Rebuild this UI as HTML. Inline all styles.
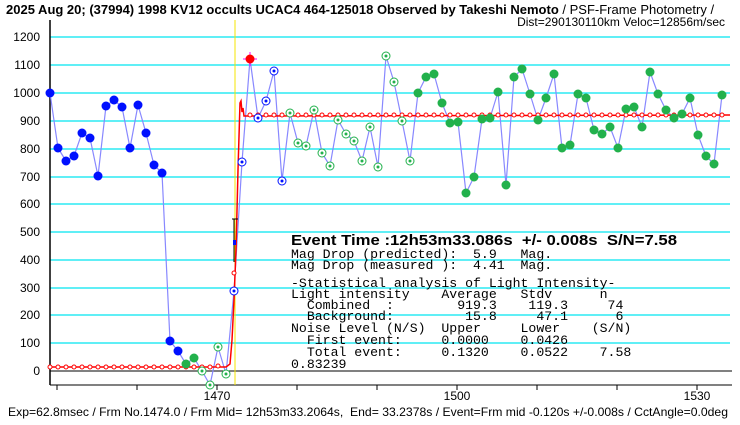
<!DOCTYPE html>
<html><head><meta charset="utf-8"><style>
body{margin:0;background:#fff;}
svg{display:block;font-family:"Liberation Sans","Noto Sans CJK JP",sans-serif;}
.m{font-family:"Liberation Mono",monospace;font-size:13.2px;}
text{white-space:pre;}
</style></head><body>
<svg width="740" height="425" viewBox="0 0 740 425" xmlns="http://www.w3.org/2000/svg">
<rect width="740" height="425" fill="#fff"/>
<g stroke="#00e5f0" stroke-width="1.3">
<line x1="50" x2="730" y1="37" y2="37"/><line x1="50" x2="730" y1="65" y2="65"/>
<line x1="50" x2="730" y1="93" y2="93"/><line x1="50" x2="730" y1="121" y2="121"/>
<line x1="50" x2="730" y1="149" y2="149"/><line x1="50" x2="730" y1="177" y2="177"/>
<line x1="50" x2="730" y1="204" y2="204"/><line x1="50" x2="730" y1="232" y2="232"/>
<line x1="50" x2="730" y1="260" y2="260"/><line x1="50" x2="730" y1="288" y2="288"/>
<line x1="50" x2="730" y1="315" y2="315"/><line x1="50" x2="730" y1="343" y2="343"/>
</g>
<line x1="50" x2="732" y1="371" y2="371" stroke="#000"/>
<line x1="50" x2="732" y1="385" y2="385" stroke="#000"/>
<line x1="50" x2="50" y1="20" y2="385" stroke="#000" stroke-width="1.5"/>
<line x1="235" x2="235" y1="20" y2="385" stroke="#f5e600"/>
<g stroke="#000"><line x1="57" x2="57" y1="385" y2="390"/><line x1="137" x2="137" y1="385" y2="390"/><line x1="217" x2="217" y1="385" y2="390"/><line x1="297" x2="297" y1="385" y2="390"/><line x1="377" x2="377" y1="385" y2="390"/><line x1="457" x2="457" y1="385" y2="390"/><line x1="537" x2="537" y1="385" y2="390"/><line x1="617" x2="617" y1="385" y2="390"/><line x1="697" x2="697" y1="385" y2="390"/></g>
<g font-size="12" text-anchor="end" fill="#000">
<text x="40" y="41">1200</text><text x="40" y="69">1100</text><text x="40" y="97">1000</text><text x="40" y="125">900</text><text x="40" y="153">800</text><text x="40" y="181">700</text><text x="40" y="208">600</text><text x="40" y="236">500</text><text x="40" y="264">400</text><text x="40" y="292">300</text><text x="40" y="319">200</text><text x="40" y="347">100</text><text x="40" y="375">0</text>
</g>
<g font-size="12" text-anchor="middle"><text x="217" y="400">1470</text><text x="457" y="400">1500</text><text x="697" y="400">1530</text></g>
<polyline fill="none" stroke="#8888ff" stroke-width="1.2" points="50,93 58,148 66,161 74,156 82,133 90,138 98,176 106,106 114,100 122,107 130,148 138,105 146,133 154,165 162,173 170,341 178,351 186,364 194,358 202,371 210,385 218,347 226,374 234,291 242,162 250,59 258,118 266,101 274,71 282,181 290,113 298,143 306,146 314,110 322,153 330,166 338,120 346,134 354,141 362,161 370,127 378,167 386,56 394,82 402,121 410,161 418,93 426,77 434,74 442,103 450,123 458,122 466,193 474,177 482,119 490,118 498,92 506,185 514,77 522,69 530,94 538,120 546,98 554,74 562,148 570,145 578,94 586,98 594,130 602,134 610,127 618,148 626,109 634,107 642,127 650,72 658,94 666,110 674,118 682,114 690,98 698,135 706,156 714,164 722,95"/>
<polyline fill="none" stroke="#f00" stroke-width="1.5" points="50,367 226,367 230,364 232,340 234,300 236,250 238,170 240,103 241,101 242,112 243,108 244,116 730,115"/>
<g fill="#fff" stroke="#f00" stroke-width="1">
<circle cx="50" cy="367" r="2"/><circle cx="58" cy="367" r="2"/><circle cx="66" cy="367" r="2"/><circle cx="74" cy="367" r="2"/><circle cx="82" cy="367" r="2"/><circle cx="90" cy="367" r="2"/><circle cx="98" cy="367" r="2"/><circle cx="106" cy="367" r="2"/><circle cx="114" cy="367" r="2"/><circle cx="122" cy="367" r="2"/><circle cx="130" cy="367" r="2"/><circle cx="138" cy="367" r="2"/><circle cx="146" cy="367" r="2"/><circle cx="154" cy="367" r="2"/><circle cx="162" cy="367" r="2"/><circle cx="170" cy="367" r="2"/><circle cx="178" cy="367" r="2"/><circle cx="186" cy="367" r="2"/><circle cx="194" cy="367" r="2"/><circle cx="202" cy="367" r="2"/><circle cx="210" cy="367" r="2"/><circle cx="218" cy="366" r="2"/><circle cx="234" cy="273" r="2"/>
</g>
<g fill="#fff" stroke="#f00">
<circle cx="250" cy="115" r="2"/><circle cx="258" cy="115" r="2"/><circle cx="266" cy="115" r="2"/><circle cx="274" cy="115" r="2"/><circle cx="282" cy="115" r="2"/><circle cx="290" cy="115" r="2"/><circle cx="298" cy="115" r="2"/><circle cx="306" cy="115" r="2"/><circle cx="314" cy="115" r="2"/><circle cx="322" cy="115" r="2"/><circle cx="330" cy="115" r="2"/><circle cx="338" cy="115" r="2"/><circle cx="346" cy="115" r="2"/><circle cx="354" cy="115" r="2"/><circle cx="362" cy="115" r="2"/><circle cx="370" cy="115" r="2"/><circle cx="378" cy="115" r="2"/><circle cx="386" cy="115" r="2"/><circle cx="394" cy="115" r="2"/><circle cx="402" cy="115" r="2"/><circle cx="410" cy="115" r="2"/><circle cx="418" cy="115" r="2"/><circle cx="426" cy="115" r="2"/><circle cx="434" cy="115" r="2"/><circle cx="442" cy="115" r="2"/><circle cx="450" cy="115" r="2"/><circle cx="458" cy="115" r="2"/><circle cx="466" cy="115" r="2"/><circle cx="474" cy="115" r="2"/><circle cx="482" cy="115" r="2"/><circle cx="490" cy="115" r="2"/><circle cx="498" cy="115" r="2"/><circle cx="506" cy="115" r="2"/><circle cx="514" cy="115" r="2"/><circle cx="522" cy="115" r="2"/><circle cx="530" cy="115" r="2"/><circle cx="538" cy="115" r="2"/><circle cx="546" cy="115" r="2"/><circle cx="554" cy="115" r="2"/><circle cx="562" cy="115" r="2"/><circle cx="570" cy="115" r="2"/><circle cx="578" cy="115" r="2"/><circle cx="586" cy="115" r="2"/><circle cx="594" cy="115" r="2"/><circle cx="602" cy="115" r="2"/><circle cx="610" cy="115" r="2"/><circle cx="618" cy="115" r="2"/><circle cx="626" cy="115" r="2"/><circle cx="634" cy="115" r="2"/><circle cx="642" cy="115" r="2"/><circle cx="650" cy="115" r="2"/><circle cx="658" cy="115" r="2"/><circle cx="666" cy="115" r="2"/><circle cx="674" cy="115" r="2"/><circle cx="682" cy="115" r="2"/><circle cx="690" cy="115" r="2"/><circle cx="698" cy="115" r="2"/><circle cx="706" cy="115" r="2"/><circle cx="714" cy="115" r="2"/><circle cx="722" cy="115" r="2"/>
</g>
<g fill="#0010ff">
<circle cx="50" cy="93" r="4.5"/><circle cx="58" cy="148" r="4.5"/><circle cx="66" cy="161" r="4.5"/><circle cx="74" cy="156" r="4.5"/><circle cx="82" cy="133" r="4.5"/><circle cx="90" cy="138" r="4.5"/><circle cx="98" cy="176" r="4.5"/><circle cx="106" cy="106" r="4.5"/><circle cx="114" cy="100" r="4.5"/><circle cx="122" cy="107" r="4.5"/><circle cx="130" cy="148" r="4.5"/><circle cx="138" cy="105" r="4.5"/><circle cx="146" cy="133" r="4.5"/><circle cx="154" cy="165" r="4.5"/><circle cx="162" cy="173" r="4.5"/><circle cx="170" cy="341" r="4.5"/><circle cx="178" cy="351" r="4.5"/>
</g>
<g fill="#22b14c">
<circle cx="186" cy="364" r="4.5"/><circle cx="194" cy="358" r="4.5"/>
<circle cx="418" cy="93" r="4.5"/><circle cx="426" cy="77" r="4.5"/><circle cx="434" cy="74" r="4.5"/><circle cx="442" cy="103" r="4.5"/><circle cx="450" cy="123" r="4.5"/><circle cx="458" cy="122" r="4.5"/><circle cx="466" cy="193" r="4.5"/><circle cx="474" cy="177" r="4.5"/><circle cx="482" cy="119" r="4.5"/><circle cx="490" cy="118" r="4.5"/><circle cx="498" cy="92" r="4.5"/><circle cx="506" cy="185" r="4.5"/><circle cx="514" cy="77" r="4.5"/><circle cx="522" cy="69" r="4.5"/><circle cx="530" cy="94" r="4.5"/><circle cx="538" cy="120" r="4.5"/><circle cx="546" cy="98" r="4.5"/><circle cx="554" cy="74" r="4.5"/><circle cx="562" cy="148" r="4.5"/><circle cx="570" cy="145" r="4.5"/><circle cx="578" cy="94" r="4.5"/><circle cx="586" cy="98" r="4.5"/><circle cx="594" cy="130" r="4.5"/><circle cx="602" cy="134" r="4.5"/><circle cx="610" cy="127" r="4.5"/><circle cx="618" cy="148" r="4.5"/><circle cx="626" cy="109" r="4.5"/><circle cx="634" cy="107" r="4.5"/><circle cx="642" cy="127" r="4.5"/><circle cx="650" cy="72" r="4.5"/><circle cx="658" cy="94" r="4.5"/><circle cx="666" cy="110" r="4.5"/><circle cx="674" cy="118" r="4.5"/><circle cx="682" cy="114" r="4.5"/><circle cx="690" cy="98" r="4.5"/><circle cx="698" cy="135" r="4.5"/><circle cx="706" cy="156" r="4.5"/><circle cx="714" cy="164" r="4.5"/><circle cx="722" cy="95" r="4.5"/>
</g>
<g fill="#fff" stroke="#22b14c" stroke-width="1">
<circle cx="202" cy="371" r="4"/><circle cx="210" cy="385" r="4"/><circle cx="218" cy="347" r="4"/><circle cx="226" cy="374" r="4"/>
<circle cx="290" cy="113" r="4"/><circle cx="298" cy="143" r="4"/><circle cx="306" cy="146" r="4"/><circle cx="314" cy="110" r="4"/><circle cx="322" cy="153" r="4"/><circle cx="330" cy="166" r="4"/><circle cx="338" cy="120" r="4"/><circle cx="346" cy="134" r="4"/><circle cx="354" cy="141" r="4"/><circle cx="362" cy="161" r="4"/><circle cx="370" cy="127" r="4"/><circle cx="378" cy="167" r="4"/><circle cx="386" cy="56" r="4"/><circle cx="394" cy="82" r="4"/><circle cx="402" cy="121" r="4"/><circle cx="410" cy="161" r="4"/>
</g>
<g fill="#22b14c"><circle cx="202" cy="371" r="1.5"/><circle cx="210" cy="385" r="1.5"/><circle cx="218" cy="347" r="1.5"/><circle cx="226" cy="374" r="1.5"/><circle cx="290" cy="113" r="1.5"/><circle cx="298" cy="143" r="1.5"/><circle cx="306" cy="146" r="1.5"/><circle cx="314" cy="110" r="1.5"/><circle cx="322" cy="153" r="1.5"/><circle cx="330" cy="166" r="1.5"/><circle cx="338" cy="120" r="1.5"/><circle cx="346" cy="134" r="1.5"/><circle cx="354" cy="141" r="1.5"/><circle cx="362" cy="161" r="1.5"/><circle cx="370" cy="127" r="1.5"/><circle cx="378" cy="167" r="1.5"/><circle cx="386" cy="56" r="1.5"/><circle cx="394" cy="82" r="1.5"/><circle cx="402" cy="121" r="1.5"/><circle cx="410" cy="161" r="1.5"/></g>
<g fill="#fff" stroke="#0010ff" stroke-width="1">
<circle cx="234" cy="291" r="4"/><circle cx="242" cy="162" r="4"/><circle cx="258" cy="118" r="4"/><circle cx="266" cy="101" r="4"/><circle cx="274" cy="71" r="4"/><circle cx="282" cy="181" r="4"/>
</g>
<g fill="#0010ff"><circle cx="234" cy="291" r="1.5"/><circle cx="242" cy="162" r="1.5"/><circle cx="258" cy="118" r="1.5"/><circle cx="266" cy="101" r="1.5"/><circle cx="274" cy="71" r="1.5"/><circle cx="282" cy="181" r="1.5"/></g>
<line x1="232" x2="238" y1="219" y2="219" stroke="#000"/><line x1="234" x2="234" y1="219" y2="262" stroke="#000"/><rect x="233" y="240" width="3" height="5" fill="#0010ff"/>
<line x1="243" x2="257" y1="59" y2="59" stroke="#ff00ff"/><line x1="250" x2="250" y1="52" y2="66" stroke="#ff00ff"/>
<circle cx="250" cy="59" r="4.5" fill="#f00"/>
<text x="6" y="14" font-size="13" font-weight="bold">2025 Aug 20; (37994) 1998 KV12 occults UCAC4 464-125018 Observed by Takeshi Nemoto <tspan font-weight="normal">/ PSF-Frame Photometry /</tspan></text>
<text x="725" y="26" font-size="12" text-anchor="end">Dist=290130110km Veloc=12856m/sec</text>
<text x="8" y="416" font-size="12" textLength="720" lengthAdjust="spacingAndGlyphs">Exp=62.8msec / Frm No.1474.0 / Frm Mid= 12h53m33.2064s,  End= 33.2378s / Event=Frm mid -0.120s +/-0.008s / CctAngle=0.0deg</text>
<text x="291" y="245" font-size="15" font-weight="bold" textLength="386" lengthAdjust="spacingAndGlyphs">Event Time :12h53m33.086s  +/- 0.008s  S/N=7.58</text>
<g class="m" fill="#000">
<text x="291" y="258">Mag Drop (predicted):  5.9   Mag.</text>
<text x="291" y="269">Mag Drop (measured ):  4.41  Mag.</text>
<text x="291" y="287">-Statistical analysis of Light Intensity-</text>
<text x="291" y="298">Light intensity    Average   Stdv      n</text>
<text x="291" y="309">  Combined  :        919.3    119.3     74</text>
<text x="291" y="320">  Background:         15.8     47.1      6</text>
<text x="291" y="332">Noise Level (N/S)  Upper     Lower    (S/N)</text>
<text x="291" y="344">  First event:     0.0000    0.0426</text>
<text x="291" y="356">  Total event:     0.1320    0.0522    7.58</text>
<text x="291" y="368">0.83239</text>
</g>
</svg>
</body></html>
